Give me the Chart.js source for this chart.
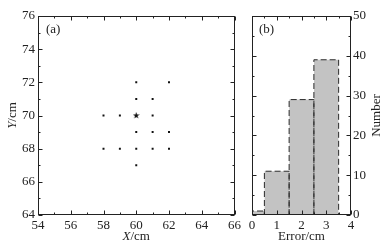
<!DOCTYPE html>
<html>
<head>
<meta charset="utf-8">
<script src="https://cdn.jsdelivr.net/npm/chart.js@4/dist/chart.umd.min.js"></script>
<style>
html, body { margin: 0; padding: 0; background: #fff; }
#wrap { position: relative; width: 386px; height: 246px; overflow: hidden; }
canvas { position: absolute; top: 0; }
#posChart { left: 0; }
#errChart { left: 244px; }
</style>
</head>
<body>
<div id="wrap">
  <canvas id="posChart" width="244" height="246"></canvas>
  <canvas id="errChart" width="142" height="246"></canvas>
</div>
<script>
// (a) measured positions
var pointX = [60, 62, 60, 61, 58, 59, 61, 60, 61, 62, 58, 59, 60, 61, 62, 60];
var pointY = [72, 72, 71, 71, 70, 70, 70, 69, 69, 69, 68, 68, 68, 68, 68, 67];
var centerX = [60];
var centerY = [70];
var posXTicks = [54, 56, 58, 60, 62, 64, 66];
var posYTicks = [64, 66, 68, 70, 72, 74, 76];

// (b) error histogram
var binEdges = [0, 0.5, 1.5, 2.5, 3.5];
var binCounts = [1, 11, 29, 39];
var errTicks = [0, 1, 2, 3, 4];
var countTicks = [0, 10, 20, 30, 40, 50];

Chart.defaults.font.family = '"Liberation Serif", "DejaVu Serif", serif';
Chart.defaults.font.size = 13;
Chart.defaults.color = '#222';

function toPoints(xs, ys) {
    return xs.map(function (x, i) { return { x: x, y: ys[i] }; });
}

function fixedTicks(list) {
    return function (scale) {
        scale.ticks = list.map(function (v) { return { value: v }; });
    };
}

// small filled five-point star for the centre point
var star = document.createElement('canvas');
star.width = 7; star.height = 7;
(function () {
    var c = star.getContext('2d');
    c.fillStyle = '#111';
    c.beginPath();
    for (var i = 0; i < 10; i++) {
        var r = i % 2 ? 1.4 : 3.5;
        var a = -Math.PI / 2 + i * Math.PI / 5;
        var px = 3.5 + r * Math.cos(a), py = 3.6 + r * Math.sin(a);
        if (i === 0) c.moveTo(px, py); else c.lineTo(px, py);
    }
    c.closePath();
    c.fill();
})();

// box + inward ticks on all four sides, axis titles, panel letter
var frame = {
    id: 'frame',
    afterDraw: function (chart, args, o) {
        var ctx = chart.ctx, a = chart.chartArea;
        var xs = chart.scales.x, ys = chart.scales.y;
        var L = Math.round(a.left) + 0.5, R = Math.round(a.right) - 0.5;
        var T = Math.round(a.top) + 0.5, B = Math.round(a.bottom) - 0.5;
        ctx.save();
        ctx.strokeStyle = '#222';
        ctx.lineWidth = 1;
        ctx.strokeRect(L, T, R - L, B - T);
        ctx.beginPath();
        var v, p, len;
        for (v = xs.min; v <= xs.max + 1e-9; v += o.xMinor) {
            p = Math.round(xs.getPixelForValue(v)) + 0.5;
            len = Math.abs(v / o.xMajor - Math.round(v / o.xMajor)) < 1e-6 ? 4 : 2;
            ctx.moveTo(p, B); ctx.lineTo(p, B - len);
            ctx.moveTo(p, T); ctx.lineTo(p, T + len);
        }
        for (v = ys.min; v <= ys.max + 1e-9; v += o.yMinor) {
            p = Math.round(ys.getPixelForValue(v)) + 0.5;
            len = Math.abs(v / o.yMajor - Math.round(v / o.yMajor)) < 1e-6 ? 4 : 2;
            ctx.moveTo(L, p); ctx.lineTo(L + len, p);
            ctx.moveTo(R, p); ctx.lineTo(R - len, p);
        }
        ctx.stroke();

        ctx.fillStyle = '#222';
        ctx.textBaseline = 'middle';
        drawParts(ctx, o.xTitle, (a.left + a.right) / 2, o.xTitleY, 0);
        drawParts(ctx, o.yTitle, o.yTitleX, (a.top + a.bottom) / 2, -Math.PI / 2);
        ctx.font = '13px "Liberation Serif", serif';
        ctx.textAlign = 'left';
        ctx.fillText(o.panel, a.left + o.panelDx, a.top + 14);
        ctx.restore();
    }
};

function drawParts(ctx, parts, cx, cy, rot) {
    var w = 0;
    parts.forEach(function (p) {
        ctx.font = (p.italic ? 'italic ' : '') + '13px "Liberation Serif", serif';
        p.w = ctx.measureText(p.text).width;
        w += p.w;
    });
    ctx.save();
    ctx.translate(cx, cy);
    ctx.rotate(rot);
    ctx.textAlign = 'left';
    var x = -w / 2;
    parts.forEach(function (p) {
        ctx.font = (p.italic ? 'italic ' : '') + '13px "Liberation Serif", serif';
        ctx.fillText(p.text, x, 0);
        x += p.w;
    });
    ctx.restore();
}

new Chart(document.getElementById('posChart').getContext('2d'), {
    type: 'scatter',
    data: {
        datasets: [{
            data: toPoints(pointX, pointY),
            pointStyle: 'rect',
            pointRadius: 1.4,
            borderWidth: 0,
            backgroundColor: '#111'
        }, {
            data: toPoints(centerX, centerY),
            pointStyle: star,
            pointRadius: 3
        }]
    },
    options: {
        responsive: false,
        animation: false,
        events: [],
        layout: { padding: { left: 0, top: 16, right: 8, bottom: 0 } },
        plugins: {
            legend: { display: false },
            tooltip: { enabled: false },
            frame: {
                xMinor: 1, xMajor: 2, yMinor: 1, yMajor: 2,
                xTitle: [{ text: 'X', italic: true }, { text: '/cm' }],
                yTitle: [{ text: 'Y', italic: true }, { text: '/cm' }],
                xTitleY: 237, yTitleX: 13,
                panel: '(a)', panelDx: 8
            }
        },
        scales: {
            x: {
                type: 'linear', min: 54, max: 66,
                afterBuildTicks: fixedTicks(posXTicks),
                afterFit: function (s) { s.height = 31; },
                grid: { display: false, drawTicks: false },
                border: { display: false },
                ticks: { padding: 3, maxRotation: 0 }
            },
            y: {
                type: 'linear', min: 64, max: 76,
                afterBuildTicks: fixedTicks(posYTicks),
                afterFit: function (s) { s.width = 38; },
                grid: { display: false, drawTicks: false },
                border: { display: false },
                ticks: { padding: 3 }
            }
        }
    },
    plugins: [frame]
});

var bars = binCounts.map(function (c, i) {
    var lo = binEdges[i], hi = binEdges[i + 1];
    return {
        data: [{ x: lo, y: 0 }, { x: lo, y: c }, { x: hi, y: c }, { x: hi, y: 0 }],
        showLine: true,
        fill: 'origin',
        backgroundColor: '#c3c3c3',
        borderColor: '#2a2a2a',
        borderWidth: 1,
        borderDash: [6, 3],
        pointRadius: 0,
        tension: 0
    };
});

new Chart(document.getElementById('errChart').getContext('2d'), {
    type: 'scatter',
    data: { datasets: bars },
    options: {
        responsive: false,
        animation: false,
        events: [],
        layout: { padding: { left: 8, top: 16, right: 0, bottom: 0 } },
        plugins: {
            legend: { display: false },
            tooltip: { enabled: false },
            filler: { drawTime: 'beforeDatasetsDraw' },
            frame: {
                xMinor: 0.5, xMajor: 1, yMinor: 5, yMajor: 10,
                xTitle: [{ text: 'Error/cm' }],
                yTitle: [{ text: 'Number' }],
                xTitleY: 237, yTitleX: 133,
                panel: '(b)', panelDx: 7
            }
        },
        scales: {
            x: {
                type: 'linear', min: 0, max: 4,
                afterBuildTicks: fixedTicks(errTicks),
                afterFit: function (s) { s.height = 31; },
                grid: { display: false, drawTicks: false },
                border: { display: false },
                ticks: { padding: 3, maxRotation: 0 }
            },
            y: {
                type: 'linear', position: 'right', min: 0, max: 50,
                afterBuildTicks: fixedTicks(countTicks),
                afterFit: function (s) { s.width = 35; },
                grid: { display: false, drawTicks: false },
                border: { display: false },
                ticks: { padding: 2 }
            }
        }
    },
    plugins: [frame]
});
</script>
</body>
</html>
